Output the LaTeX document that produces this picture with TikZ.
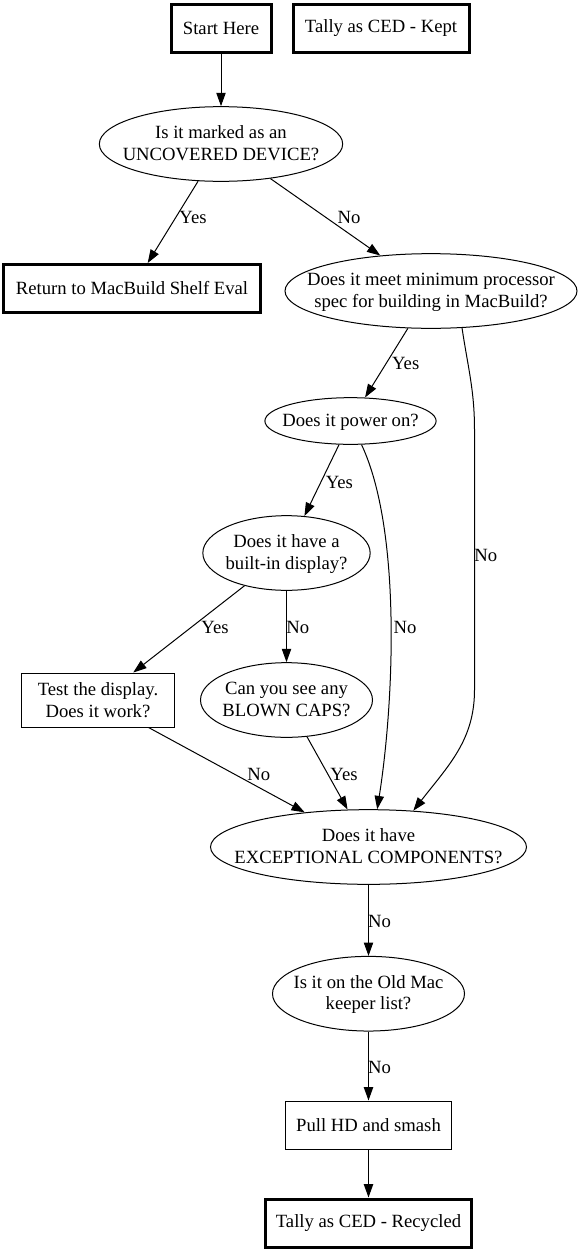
\documentclass[tikz,border=0pt]{standalone}
\usepackage{fontspec}
\setmainfont{Liberation Serif}
\usetikzlibrary{shapes.geometric,arrows.meta}
\newcommand{\qtext}[1]{\smash{\makebox[0pt]{\raisebox{-4.5pt}{\begin{tabular}{@{}c@{}}#1\end{tabular}}}}}
\begin{document}
\begin{tikzpicture}[x=0.75pt,y=-0.75pt,
  every node/.style={font=\fontsize{14pt}{16pt}\selectfont, inner sep=0pt, align=center},
  thickbox/.style={draw, rectangle, line width=2.25pt, minimum height=36pt},
  thinbox/.style={draw, rectangle, line width=0.75pt},
  question/.style={draw, ellipse, line width=0.75pt, minimum height=56pt},
  edge/.style={line width=0.75pt, -{Triangle[length=10pt,width=7pt]}},
  lbl/.style={}]
\useasboundingbox (0,0) rectangle (581,1253);

% nodes
\node[thickbox, minimum width=75pt] (start) at (221,28.5) {Start Here};
\node[thickbox, minimum width=132pt] (kept) at (381,28.5) {Tally as CED - Kept};
\node[question, minimum width=182.5pt] (unc) at (221,144) {\qtext{Is it marked as an\\UNCOVERED DEVICE?}};
\node[thickbox, minimum width=192.75pt] (ret) at (132,288.5) {Return to MacBuild Shelf Eval};
\node[question, minimum width=219pt] (proc) at (431,291) {\qtext{Does it meet minimum processor\\spec for building in MacBuild?}};
\node[question, minimum width=128.4pt, minimum height=35pt] (power) at (350.5,421) {\qtext{Does it power on?}};
\node[question, minimum width=125.5pt] (disp) at (286.5,553) {\qtext{Does it have a\\built-in display?}};
\node[thinbox, minimum width=114.5pt, minimum height=40.5pt] (test) at (98,700) {Test the display.\\Does it work?};
\node[question, minimum width=129pt] (blown) at (286.5,700) {\qtext{Can you see any\\BLOWN CAPS?}};
\node[question, minimum width=237pt] (exc) at (368.5,847) {\qtext{Does it have\\EXCEPTIONAL COMPONENTS?}};
\node[question, minimum width=144pt] (old) at (368.5,993.7) {\qtext{Is it on the Old Mac\\keeper list?}};
\node[thinbox, minimum width=124.5pt, minimum height=36pt] (pull) at (368.5,1125) {Pull HD and smash};
\node[thickbox, minimum width=155pt] (rec) at (368.5,1223) {Tally as CED - Recycled};

% waypoints
\coordinate (w1) at (474.5,430);
\coordinate (w2) at (474.5,690);

% edges
\draw[edge] (start) -- (unc);
\draw[edge] (unc) -- (ret);
\draw[edge] (unc) -- (proc);
\draw[edge] (proc) -- (power);
\draw[edge] (proc.-50) .. controls +(6,40) and +(0,-40) .. (w1) -- (w2)
  .. controls +(0,50) and +(35,-45) .. (exc.39);
\draw[edge] (power) -- (disp);
\draw[edge] (power.-65) .. controls +(40,85) and +(17,-108) .. (exc.77);
\draw[edge] (disp) -- (test);
\draw[edge] (disp) -- (blown);
\draw[edge] (test) -- (exc);
\draw[edge] (blown) -- (exc);
\draw[edge] (exc) -- (old);
\draw[edge] (old) -- (pull);
\draw[edge] (pull) -- (rec);

% edge labels
\node[lbl] (l1) at (193,217) {Yes};
\node[lbl] (l2) at (349,217) {No};
\node[lbl] (l3) at (405.7,363) {Yes};
\node[lbl] (l4) at (485.7,555) {No};
\node[lbl] (l5) at (339.4,482) {Yes};
\node[lbl] (l6) at (405,627) {No};
\node[lbl] (l7) at (215,627) {Yes};
\node[lbl] (l8) at (297.7,627) {No};
\node[lbl] (l9) at (258.7,774) {No};
\node[lbl] (l10) at (344,774) {Yes};
\node[lbl] (l11) at (379.6,921.7) {No};
\node[lbl] (l12) at (379.6,1067) {No};
\end{tikzpicture}
\end{document}
